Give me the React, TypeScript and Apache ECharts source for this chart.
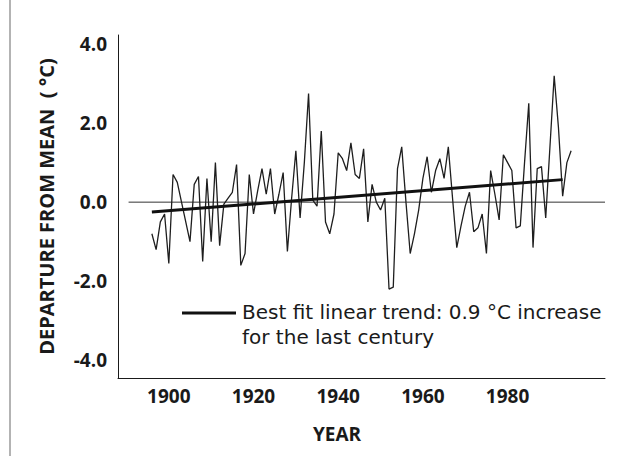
import React, { useEffect, useRef } from "react";
import * as echarts from "echarts";

// Annual temperature departure from mean (°C), 1896–1995
const startYear = 1896;
const anomalies = [
  -0.8, -1.2, -0.5, -0.3, -1.55, 0.7, 0.5, 0.0, -0.5, -1.0, // 1896-1905
  0.45, 0.65, -1.5, 0.6, -1.0, 1.0, -1.1, -0.05, 0.1, 0.25, // 1906-1915
  0.95, -1.6, -1.3, 0.7, -0.3, 0.3, 0.85, 0.2, 0.85, -0.3, // 1916-1925
  0.2, 0.75, -1.25, 0.1, 1.3, -0.4, 1.0, 2.75, 0.05, -0.1, // 1926-1935
  1.8, -0.5, -0.8, -0.3, 1.25, 1.1, 0.8, 1.5, 0.7, 0.6, // 1936-1945
  1.35, -0.5, 0.45, 0.0, -0.2, 0.1, -2.2, -2.15, 0.85, 1.4, // 1946-1955
  0.0, -1.3, -0.8, -0.2, 0.6, 1.15, 0.25, 0.8, 1.1, 0.6, // 1956-1965
  1.4, 0.1, -1.15, -0.6, -0.1, 0.25, -0.75, -0.65, -0.3, -1.3, // 1966-1975
  0.8, 0.2, -0.45, 1.2, 1.0, 0.8, -0.65, -0.6, 1.0, 2.5, // 1976-1985
  -1.15, 0.85, 0.9, -0.4, 1.4, 3.2, 1.9, 0.15, 1.0, 1.3, // 1986-1995
];

// Best fit linear trend end points
const trendYears = [1896, 1993];
const trendValues = [-0.25, 0.57];

// Zero reference line extent
const zeroLineYears = [1890.5, 2003];

const xTickLabels = [1900, 1920, 1940, 1960, 1980];
const yTickLabels = [-4, -2, 0, 2, 4];

const legendLines = ["Best fit linear trend: 0.9 °C increase", "for the last century"];

const FONT = "'Open Sans', 'DejaVu Sans', sans-serif";
const LEGEND_FONT = "'DejaVu Sans', sans-serif";
const INK = "#1a1a1a";

export default function App() {
  const ref = useRef<HTMLDivElement>(null);

  useEffect(() => {
    if (!ref.current) return;
    const chart = echarts.init(ref.current, null, { renderer: "svg" });
    const seriesData = anomalies.map((v, i) => [startYear + i, v]);
    const trendData = trendYears.map((y, i) => [y, trendValues[i]]);
    const zeroData = zeroLineYears.map((y) => [y, 0]);

    chart.setOption({
      animation: false,
      backgroundColor: "#ffffff",
      grid: { left: 118, right: 28, top: 35, bottom: 78 },
      xAxis: {
        type: "value",
        min: 1888,
        max: 2003,
        splitLine: { show: false },
        axisTick: { show: false },
        axisLine: { onZero: false, lineStyle: { color: INK, width: 1 } },
        axisLabel: {
          customValues: xTickLabels,
          formatter: (v: number) => String(v),
          fontFamily: FONT,
          fontWeight: "bold",
          fontSize: 19,
          color: INK,
          margin: 8,
        },
      },
      yAxis: {
        type: "value",
        min: -4.45,
        max: 4.23,
        splitLine: { show: false },
        axisTick: { show: false },
        axisLine: { onZero: false, lineStyle: { color: INK, width: 1 } },
        axisLabel: {
          customValues: yTickLabels,
          formatter: (v: number) => v.toFixed(1),
          fontFamily: FONT,
          fontWeight: "bold",
          fontSize: 19,
          color: INK,
          margin: 11,
        },
        name: "DEPARTURE FROM MEAN  ( °C)",
        nameLocation: "middle",
        nameGap: 62,
        nameRotate: 90,
        nameTextStyle: {
          fontFamily: FONT,
          fontWeight: "bold",
          fontSize: 20,
          color: INK,
        },
      },
      series: [
        {
          type: "line",
          data: zeroData,
          symbol: "none",
          silent: true,
          lineStyle: { color: "#333", width: 1 },
        },
        {
          type: "line",
          data: seriesData,
          symbol: "none",
          lineStyle: { color: "#1e1e1e", width: 1.3 },
        },
        {
          type: "line",
          data: trendData,
          symbol: "none",
          lineStyle: { color: "#111", width: 3 },
        },
      ],
      graphic: [
        {
          type: "line",
          shape: { x1: 10, y1: 0, x2: 10, y2: 456 },
          style: { stroke: "#9a9a9a", lineWidth: 1.5 },
        },
        {
          type: "text",
          x: 337,
          y: 434,
          style: {
            text: "YEAR",
            font: `bold 19px ${FONT}`,
            fill: INK,
            textAlign: "center",
            textVerticalAlign: "middle",
          },
        },
        {
          type: "line",
          shape: { x1: 182, y1: 313, x2: 236, y2: 313 },
          style: { stroke: "#111", lineWidth: 3 },
        },
        {
          type: "text",
          x: 242,
          y: 312,
          style: {
            text: legendLines[0],
            font: `20px ${LEGEND_FONT}`,
            fill: INK,
            textVerticalAlign: "middle",
          },
        },
        {
          type: "text",
          x: 242,
          y: 337,
          style: {
            text: legendLines[1],
            font: `20px ${LEGEND_FONT}`,
            fill: INK,
            textVerticalAlign: "middle",
          },
        },
      ],
    });

    return () => chart.dispose();
  }, []);

  return (
    <div
      ref={ref}
      style={{ position: "fixed", left: 0, top: 0, width: 633, height: 456 }}
    />
  );
}
